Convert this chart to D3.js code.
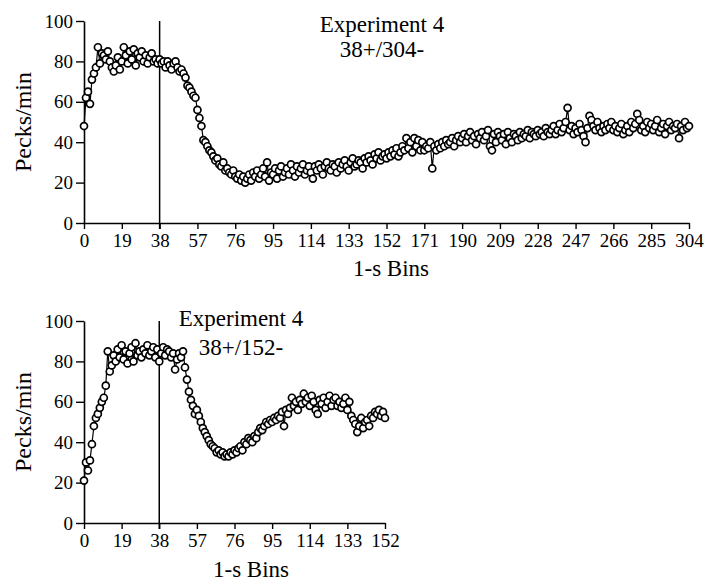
<!DOCTYPE html>
<html>
<head>
<meta charset="utf-8">
<script src="https://cdn.jsdelivr.net/npm/d3@7"></script>
<style>
  body { margin: 0; background: #fff; }
  svg text { font-family: 'Liberation Serif', 'Times New Roman', serif; fill: #000; }
</style>
</head>
<body>
<div id="chart"></div>
<script>
// Pecks/min per 1-s bin, Experiment 4, 38+/304- (bins 0..304)
var peckLong = [
  48, 62, 65, 59, 71, 74, 77, 87, 79, 84, 83, 81, 85, 80, 77, 75, 78, 82, 76,
  80, 87, 83, 79, 85, 81, 86, 78, 84, 82, 85, 80, 83, 79, 82, 84, 80, 81, 79,
  81, 79, 80, 77, 80, 78, 76, 79, 80, 77, 75, 76, 74, 72, 68, 67, 65, 63, 62,
  56, 52, 48, 41, 40, 38, 36, 35, 33, 31, 32, 29, 28, 30, 26, 27, 25, 24, 26,
  23, 22, 24, 21, 23, 20, 22, 24, 21, 25, 23, 26, 22, 24, 27, 23, 30, 21, 25,
  24, 27, 22, 26, 28, 23, 25, 27, 24, 29, 26, 23, 28, 25, 27, 29, 24, 26, 28,
  25, 22, 28, 26, 29, 27, 24, 28, 30, 27, 26, 29, 28, 25, 30, 27, 29, 31, 28,
  26, 30, 32, 28, 29, 31, 30, 27, 32, 30, 33, 31, 29, 34, 32, 35, 31, 33, 34,
  32, 35, 33, 36, 34, 37, 33, 35, 38, 36, 42, 37, 40, 35, 42, 38, 41, 36, 40,
  36, 38, 37, 40, 27, 38, 36, 39, 37, 40, 38, 41, 39, 40, 42, 38, 41, 43, 40,
  42, 44, 40, 43, 45, 41, 43, 39, 44, 42, 45, 41, 43, 46, 38, 36, 44, 40, 45,
  43, 41, 44, 39, 45, 42, 40, 44, 43, 41, 45, 42, 44, 43, 46, 42, 45, 44, 43,
  46, 44, 45, 43, 47, 45, 44, 46, 48, 44, 46, 49, 45, 47, 50, 57, 46, 48, 44,
  47, 45, 49, 46, 43, 40, 47, 53, 51, 48, 46, 50, 47, 45, 48, 46, 49, 47, 50,
  46, 48, 45, 47, 49, 44, 46, 48, 45, 50, 47, 49, 54, 51, 46, 48, 45, 50, 47,
  49, 46, 48, 51, 45, 47, 49, 44, 48, 50, 46, 48, 47, 49, 42, 48, 46, 50, 47,
  48
]

// Pecks/min per 1-s bin, Experiment 4, 38+/152- (bins 0..152)
var peckShort = [
  21, 30, 26, 31, 39, 48, 52, 54, 57, 60, 62, 68, 85, 75, 78, 83, 80, 86, 82,
  88, 81, 85, 79, 84, 87, 80, 89, 83, 85, 82, 86, 84, 88, 83, 85, 87, 82, 86,
  80, 84, 87, 83, 86, 85, 82, 84, 76, 81, 84, 82, 85, 77, 71, 65, 61, 58, 54,
  56, 53, 50, 47, 45, 43, 41, 39, 38, 37, 35, 36, 34, 35, 33, 34, 33, 35, 34,
  36, 35, 37, 38, 36, 40, 39, 42, 41, 40, 43, 42, 45, 47, 46, 48, 50, 49, 51,
  50, 52, 51, 53, 52, 55, 48, 56, 54, 57, 62, 58, 60, 56, 61, 59, 64, 60, 62,
  58, 63, 60, 56, 54, 61, 59, 62, 57, 60, 63, 58, 61, 62, 58, 60, 57, 59, 62,
  56, 60, 53, 51, 49, 45, 48, 52, 47, 50, 51, 48, 53, 52, 55, 54, 56, 53, 55,
  52
]

var yTicks = [0, 20, 40, 60, 80, 100]
var xTicksLong = [0, 19, 38, 57, 76, 95, 114, 133, 152, 171, 190, 209, 228, 247, 266, 285, 304]
var xTicksShort = [0, 19, 38, 57, 76, 95, 114, 133, 152]
var switchBin = 38

var panels = [
  {
    values: peckLong, ticks: xTicksLong, xMax: 304,
    left: 84, right: 689, top: 21, bottom: 223,
    title: ['Experiment 4', '38+/304-'], titleX: 382, titleY: [32, 57],
    xLabelX: 391, xLabelY: 276, yLabelY: 122
  },
  {
    values: peckShort, ticks: xTicksShort, xMax: 152,
    left: 84, right: 385, top: 321, bottom: 523,
    title: ['Experiment 4', '38+/152-'], titleX: 241, titleY: [326, 355],
    xLabelX: 251, xLabelY: 577, yLabelY: 422
  }
]

var svg = d3.select('#chart').append('svg')
  .attr('width', 706)
  .attr('height', 581)

panels.forEach(function (p) {
  var x = d3.scaleLinear().domain([0, p.xMax]).range([p.left, p.right])
  var y = d3.scaleLinear().domain([0, 100]).range([p.bottom, p.top])

  var g = svg.append('g')

  // axes
  var xAxis = g.append('g')
    .attr('transform', 'translate(0,' + p.bottom + ')')
    .call(d3.axisBottom(x).tickValues(p.ticks).tickSize(6).tickPadding(5).tickSizeOuter(0))
  var yAxis = g.append('g')
    .attr('transform', 'translate(' + p.left + ',0)')
    .call(d3.axisLeft(y).tickValues(yTicks).tickSize(8).tickPadding(3).tickSizeOuter(0))

  ;[xAxis, yAxis].forEach(function (a) {
    a.select('.domain').attr('stroke', '#000').attr('stroke-width', 1.6)
    a.selectAll('.tick line').attr('stroke', '#000').attr('stroke-width', 1.4)
    a.selectAll('.tick text')
      .style('font-family', "'Liberation Serif', serif")
      .style('font-size', '19px')
      .attr('fill', '#000')
  })

  // CS switch marker
  g.append('line')
    .attr('x1', x(switchBin)).attr('x2', x(switchBin))
    .attr('y1', y(100)).attr('y2', p.bottom + 6)
    .attr('stroke', '#000')
    .attr('stroke-width', 1.5)

  var line = d3.line()
    .x(function (d, i) { return x(i) })
    .y(function (d) { return y(d) })

  g.append('path')
    .datum(p.values)
    .attr('d', line)
    .attr('fill', 'none')
    .attr('stroke', '#000')
    .attr('stroke-width', 1.2)

  g.selectAll('circle')
    .data(p.values)
    .enter().append('circle')
    .attr('cx', function (d, i) { return x(i) })
    .attr('cy', function (d) { return y(d) })
    .attr('r', 3.5)
    .attr('fill', '#fff')
    .attr('stroke', '#000')
    .attr('stroke-width', 1.7)

  // titles and labels
  p.title.forEach(function (t, i) {
    g.append('text')
      .attr('x', p.titleX)
      .attr('y', p.titleY[i])
      .attr('text-anchor', 'middle')
      .style('font-size', '23px')
      .text(t)
  })

  g.append('text')
    .attr('x', p.xLabelX)
    .attr('y', p.xLabelY)
    .attr('text-anchor', 'middle')
    .style('font-size', '23px')
    .text('1-s Bins')

  g.append('text')
    .attr('transform', 'translate(31,' + p.yLabelY + ') rotate(-90)')
    .attr('text-anchor', 'middle')
    .style('font-size', '24px')
    .text('Pecks/min')
})
</script>
</body>
</html>
